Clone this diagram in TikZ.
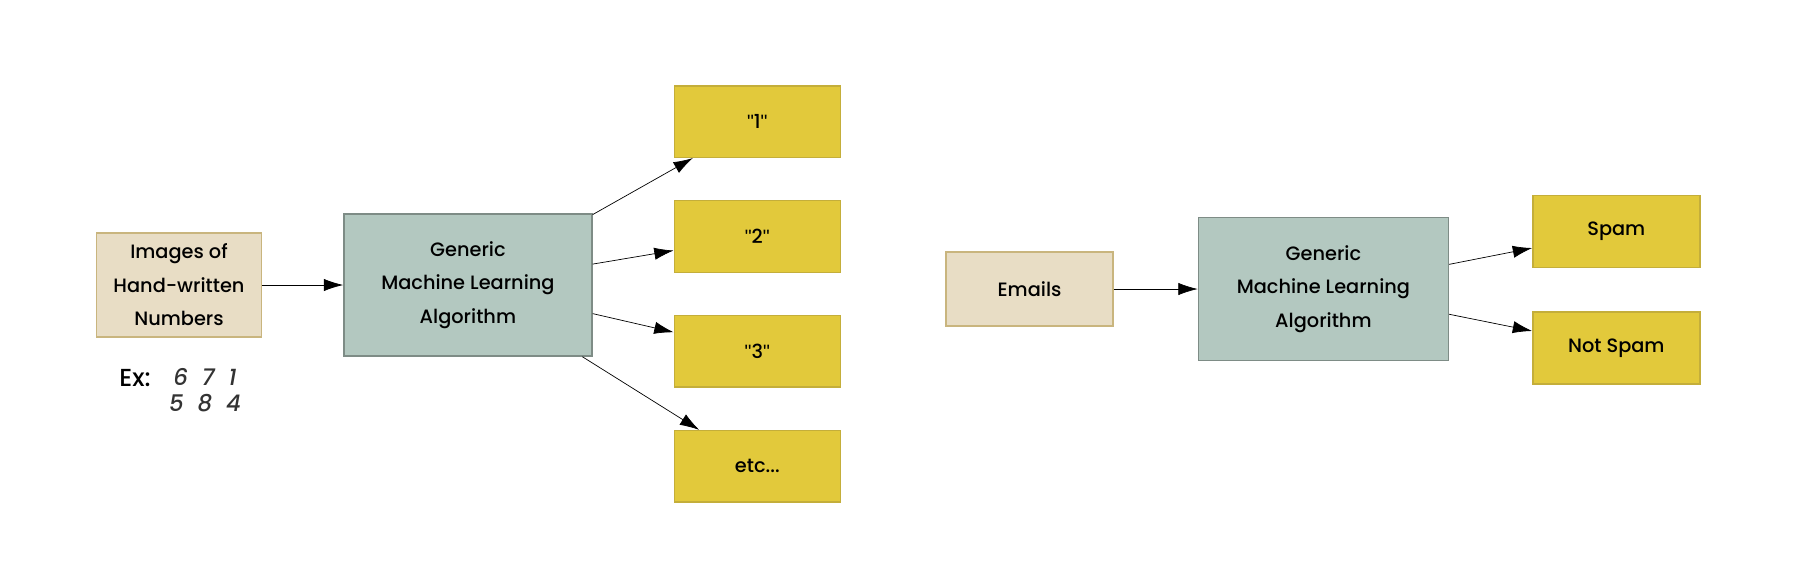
\documentclass[tikz,border=0pt]{standalone}
\usepackage{fontspec}
\setmainfont{Poppins}[UprightFont={* Medium}]
\newfontfamily\quotefont{Liberation Sans}
\newcommand{\qmark}{{\quotefont\symbol{34}}}
\usepackage{tikz}
\usetikzlibrary{
  arrows.meta,
  positioning,
}
\definecolor{inbeige}{HTML}{E8DDC5}
\definecolor{inedge}{HTML}{C9B57E}
\definecolor{algteal}{HTML}{B3C8C0}
\definecolor{algedge}{HTML}{7E8C86}
\definecolor{outyellow}{HTML}{E2C93B}
\definecolor{outedge}{HTML}{C4AE3A}

\begin{document}
\begin{tikzpicture}[
    lbl/.style={font=\fontsize{11}{19}\selectfont, align=center, text=black},
    inbox/.style={lbl, rectangle, draw=inedge, fill=inbeige, thick, minimum width=3.3cm, minimum height=2.08cm, inner sep=0pt},
    mailbox/.style={inbox, minimum height=1.48cm, minimum width=3.34cm},
    algbox/.style={lbl, rectangle, draw=algedge, fill=algteal, thick, minimum width=4.96cm, minimum height=2.84cm, inner sep=0pt},
    outbox/.style={lbl, rectangle, draw=outedge, fill=outyellow, thick, minimum width=3.32cm, minimum height=1.43cm, inner sep=0pt},
    arr/.style={-{Latex[length=11pt, width=7pt]}, thin, black},
    node distance=1.62cm,
  ]
  \useasboundingbox (0,0) rectangle (36,-11.68);

  % hand-written digits
  \node[inbox] (imgs) at (3.58,-5.70) {Images of\\Hand-written\\Numbers};
  \node[algbox, right=of imgs] (alg) {Generic\\Machine Learning\\Algorithm};
  \node[outbox, right=of alg, yshift=0.97cm] (two) {\qmark2\qmark};
  \node[outbox, above=0.84cm of two] (one) {\qmark1\qmark};
  \node[outbox, below=0.84cm of two] (three) {\qmark3\qmark};
  \node[outbox, below=0.84cm of three] (etc) {etc...};

  \node[lbl, font=\fontsize{14}{19}\selectfont] (ex) at (2.70,-7.56) {Ex:};
  \node[lbl, font=\fontsize{13}{19}\itshape\selectfont, text=black!80] (digA) at (4.10,-7.54) {6\hspace{0.28cm}7\hspace{0.28cm}1};
  \node[lbl, font=\fontsize{13}{19}\itshape\selectfont, text=black!80, below=-0.08cm of digA] (digB) {5\hspace{0.28cm}8\hspace{0.28cm}4};

  \draw[arr] (imgs) -- (alg);
  \draw[arr] (alg) -- (one);
  \draw[arr] (alg) -- (two);
  \draw[arr] (alg) -- (three);
  \draw[arr] (alg) -- (etc);

  % spam filter
  \node[mailbox] (mails) at (20.59,-5.78) {Emails};
  \node[algbox, minimum width=5cm, minimum height=2.86cm, right=1.68cm of mails] (alg2) {Generic\\Machine Learning\\Algorithm};
  \node[outbox, minimum width=3.34cm, minimum height=1.44cm, right=1.66cm of alg2, yshift=1.15cm] (spam) {Spam};
  \node[outbox, minimum width=3.34cm, minimum height=1.44cm, below=0.86cm of spam] (nospam) {Not Spam};

  \draw[arr] (mails) -- (alg2);
  \draw[arr] (alg2) -- (spam);
  \draw[arr] (alg2) -- (nospam);
\end{tikzpicture}
\end{document}
